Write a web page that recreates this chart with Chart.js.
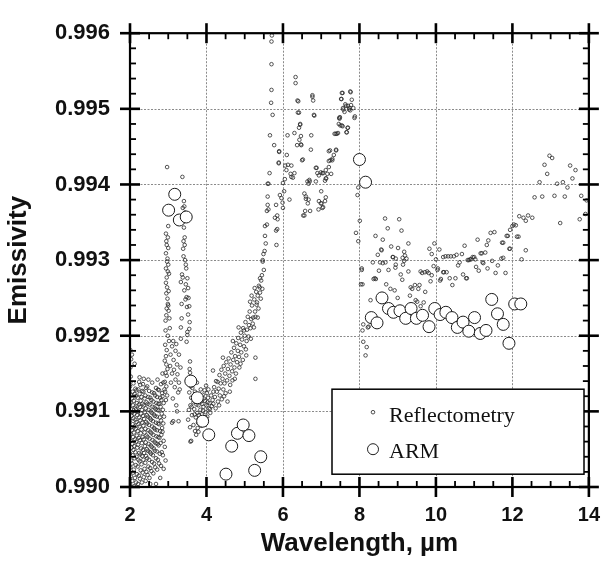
<!DOCTYPE html>
<html>
<head>
<meta charset="utf-8">
<title>Emissivity vs wavelength</title>
<script src="https://cdn.jsdelivr.net/npm/chart.js@4.4.1/dist/chart.umd.min.js"></script>
<style>
  html, body { margin: 0; padding: 0; background: #fff; }
  canvas { display: block; }
</style>
</head>
<body>
<canvas id="emisChart" width="616" height="561"></canvas>
<script>
// ── Axis ticks ─────────────────────────────────────────────
const xTicks = [2, 4, 6, 8, 10, 12, 14];
const yTicks = [0.990, 0.991, 0.992, 0.993, 0.994, 0.995, 0.996];

// ── ARM (large circles) ────────────────────────────────────
const armWave = [3.01, 3.17, 3.29, 3.47, 3.59, 3.76, 3.90, 4.06, 4.51, 4.66, 4.81, 4.96, 5.11, 5.26, 5.42,
  8.00, 8.16, 8.31, 8.46, 8.59, 8.76, 8.89, 9.06, 9.21, 9.35, 9.49, 9.65, 9.82, 9.97, 10.11, 10.26, 10.42,
  10.56, 10.71, 10.86, 11.01, 11.16, 11.31, 11.46, 11.61, 11.76, 11.91, 12.06, 12.22];
const armEmis = [0.99366, 0.99387, 0.99353, 0.99357, 0.99140, 0.99118, 0.99087, 0.99069, 0.99017, 0.99054,
  0.99071, 0.99082, 0.99068, 0.99022, 0.99040,
  0.99433, 0.99403, 0.99224, 0.99217, 0.99250, 0.99236, 0.99231, 0.99233, 0.99223, 0.99236, 0.99223, 0.99227,
  0.99212, 0.99236, 0.99228, 0.99231, 0.99224, 0.99211, 0.99218, 0.99206, 0.99224, 0.99203, 0.99207, 0.99248,
  0.99229, 0.99215, 0.99190, 0.99242, 0.99242];

// ── Reflectometry (small circles), [wavelength, emissivity] ─
const reflNear2 = [
  [2.00,0.99003],[2.02,0.99014],[2.01,0.99026],[2.03,0.99035],[2.00,0.99044],[2.04,0.99052],[2.02,0.99061],[2.01,0.99070],[2.03,0.99079],[2.00,0.99088],
  [2.04,0.99094],[2.02,0.99103],[2.01,0.99112],[2.03,0.99121],[2.00,0.99133],[2.02,0.99146],[2.01,0.99158],[2.03,0.99169],[2.01,0.99181],
  [2.06,0.99008],[2.08,0.99019],[2.05,0.99031],[2.07,0.99042],[2.09,0.99049],[2.06,0.99057],[2.08,0.99066],[2.05,0.99075],[2.07,0.99083],[2.09,0.99091],
  [2.06,0.99099],[2.08,0.99108],[2.05,0.99117],[2.07,0.99126],[2.09,0.99137],
  [2.11,0.99001],[2.13,0.99012],[2.10,0.99023],[2.12,0.99038],[2.14,0.99046],[2.11,0.99054],[2.13,0.99063],[2.10,0.99072],[2.12,0.99080],[2.14,0.99089],
  [2.11,0.99097],[2.13,0.99105],[2.10,0.99114],[2.12,0.99123],[2.14,0.99130],
  [2.16,0.99006],[2.18,0.99017],[2.15,0.99029],[2.17,0.99040],[2.19,0.99052],[2.16,0.99060],[2.18,0.99068],[2.15,0.99077],[2.17,0.99086],[2.19,0.99095],
  [2.16,0.99103],[2.18,0.99111],[2.15,0.99120],[2.17,0.99128],
  [2.21,0.99004],[2.23,0.99015],[2.20,0.99027],[2.22,0.99036],[2.24,0.99045],[2.21,0.99056],[2.23,0.99065],[2.20,0.99074],[2.22,0.99083],[2.24,0.99092],
  [2.21,0.99100],[2.23,0.99109],[2.20,0.99118],[2.22,0.99129],[2.24,0.99139],
  [2.26,0.99011],[2.28,0.99022],[2.25,0.99034],[2.27,0.99043],[2.29,0.99051],[2.26,0.99062],[2.28,0.99071],[2.25,0.99080],[2.27,0.99088],[2.29,0.99097],
  [2.26,0.99106],[2.28,0.99114],[2.25,0.99123],[2.27,0.99135],
  [2.31,0.99006],[2.33,0.99019],[2.30,0.99030],[2.32,0.99041],[2.34,0.99049],[2.31,0.99058],[2.33,0.99066],[2.30,0.99076],[2.32,0.99085],[2.34,0.99094],
  [2.31,0.99102],[2.33,0.99110],[2.30,0.99119],[2.32,0.99127],[2.34,0.99136],
  [2.36,0.99013],[2.38,0.99024],[2.35,0.99036],[2.37,0.99045],[2.39,0.99054],[2.36,0.99063],[2.38,0.99072],[2.35,0.99081],[2.37,0.99090],[2.39,0.99099],
  [2.36,0.99108],[2.38,0.99117],[2.35,0.99126],
  [2.41,0.99008],[2.43,0.99020],[2.40,0.99032],[2.42,0.99041],[2.44,0.99050],[2.41,0.99059],[2.43,0.99068],[2.40,0.99077],[2.42,0.99086],[2.44,0.99095],
  [2.41,0.99104],[2.43,0.99112],[2.40,0.99121],[2.42,0.99131],
  [2.46,0.99016],[2.48,0.99027],[2.45,0.99038],[2.47,0.99048],[2.49,0.99057],[2.46,0.99066],[2.48,0.99075],[2.45,0.99084],[2.47,0.99093],[2.49,0.99102],
  [2.46,0.99110],[2.48,0.99119],[2.45,0.99133],
  [2.51,0.99012],[2.53,0.99025],[2.50,0.99036],[2.52,0.99046],[2.54,0.99055],[2.51,0.99064],[2.53,0.99073],[2.50,0.99082],[2.52,0.99091],[2.54,0.99100],
  [2.51,0.99109],[2.53,0.99118],[2.50,0.99127],
  [2.56,0.99021],[2.58,0.99033],[2.55,0.99044],[2.57,0.99053],[2.59,0.99062],[2.56,0.99071],[2.58,0.99080],[2.55,0.99089],[2.57,0.99098],[2.59,0.99106],
  [2.56,0.99115],[2.58,0.99125],
  [2.61,0.99018],[2.63,0.99031],[2.60,0.99042],[2.62,0.99051],[2.64,0.99060],[2.61,0.99069],[2.63,0.99078],[2.60,0.99087],[2.62,0.99096],[2.64,0.99105],
  [2.61,0.99113],[2.63,0.99124],
  [2.66,0.99026],[2.68,0.99038],[2.65,0.99048],[2.67,0.99058],[2.69,0.99067],[2.66,0.99076],[2.68,0.99085],[2.65,0.99094],[2.67,0.99103],[2.69,0.99111],
  [2.66,0.99121],[2.68,0.99131],
  [2.71,0.99023],[2.73,0.99036],[2.70,0.99047],[2.72,0.99057],[2.74,0.99066],[2.71,0.99075],[2.73,0.99084],[2.70,0.99093],[2.72,0.99102],[2.74,0.99110],
  [2.71,0.99119],[2.73,0.99129],
  [2.76,0.99031],[2.78,0.99044],[2.75,0.99055],[2.77,0.99065],[2.79,0.99074],[2.76,0.99083],[2.78,0.99092],[2.75,0.99101],[2.77,0.99110],[2.79,0.99118],
  [2.76,0.99128],
  [2.81,0.99028],[2.83,0.99046],[2.80,0.99058],[2.82,0.99069],[2.84,0.99078],[2.81,0.99088],[2.83,0.99097],[2.80,0.99106],[2.82,0.99115],[2.84,0.99124],
  [2.81,0.99136],
  [2.86,0.99042],[2.88,0.99061],[2.85,0.99073],[2.87,0.99084],[2.89,0.99093],[2.86,0.99102],[2.88,0.99111],[2.85,0.99120],[2.90,0.99129],[2.87,0.99138],
  [2.91,0.99053],[2.79,0.99012],[2.68,0.99004],[2.88,0.99024],[2.53,0.99004],[2.36,0.99143],[2.58,0.99138],[2.72,0.99142],[2.85,0.99150],[2.12,0.99163],
  [2.05,0.99175],[2.48,0.99142],[2.25,0.99145],[2.93,0.99035]
];
const reflBand3 = [
  [2.97,0.99423],[3.00,0.99345],[2.94,0.99335],[2.99,0.99330],[2.96,0.99320],[3.00,0.99316],[2.94,0.99309],[2.97,0.99298],[3.00,0.99294],[2.94,0.99289],
  [2.99,0.99285],[2.96,0.99277],[2.94,0.99270],[2.97,0.99264],[3.01,0.99259],[2.95,0.99256],[2.98,0.99249],[2.99,0.99242],[3.01,0.99233],[2.95,0.99227],
  [3.03,0.99223],[2.93,0.99220],[3.04,0.99210],[2.93,0.99207],[2.99,0.99200],[2.92,0.99188],[2.96,0.99181],[2.94,0.99173],[2.91,0.99167],[2.95,0.99162],
  [2.98,0.99156],[2.93,0.99151],[2.96,0.99147],[2.91,0.99139],[2.95,0.99133],[2.92,0.99126],[2.97,0.99121],[2.94,0.99115],[3.00,0.99240],[2.96,0.99236],
  [3.02,0.99193],[2.98,0.99302],[2.95,0.99325],[3.02,0.99282],
  [3.37,0.99410],[3.41,0.99378],[3.42,0.99371],[3.38,0.99369],[3.44,0.99363],[3.36,0.99354],[3.41,0.99343],[3.40,0.99325],[3.43,0.99320],[3.39,0.99315],
  [3.44,0.99300],[3.46,0.99294],[3.36,0.99281],[3.38,0.99277],[3.46,0.99268],[3.42,0.99260],[3.48,0.99251],[3.45,0.99248],[3.35,0.99242],[3.49,0.99238],
  [3.35,0.99223],[3.33,0.99211],[3.50,0.99201],[3.43,0.99330],[3.47,0.99289],[3.33,0.99271],[3.40,0.99305],[3.50,0.99276],[3.52,0.99263],[3.53,0.99250],
  [3.55,0.99239],[3.52,0.99228],[3.56,0.99218],[3.55,0.99209],[3.50,0.99205],[3.48,0.99192],[3.57,0.99166],[3.56,0.99156],[3.57,0.99151],[3.54,0.99138],
  [3.59,0.99133],
  [3.10,0.99186],[3.19,0.99180],[3.28,0.99175],[3.14,0.99168],[3.23,0.99162],[3.32,0.99158],[3.10,0.99150],[3.19,0.99142],[3.28,0.99138],[3.17,0.99132],
  [3.26,0.99125],[3.12,0.99117],[3.21,0.99108],[3.27,0.99087],[3.10,0.99085],[3.05,0.99160],[3.07,0.99138],[3.15,0.99155],[3.24,0.99149],[3.30,0.99129],
  [3.13,0.99193],[3.21,0.99189],[3.06,0.99175],[3.33,0.99196]
];
const reflNear4 = [
  [3.55,0.99125],[3.60,0.99118],[3.63,0.99131],[3.58,0.99108],[3.66,0.99112],[3.70,0.99126],[3.68,0.99103],[3.73,0.99117],[3.76,0.99098],[3.72,0.99092],
  [3.79,0.99108],[3.81,0.99121],[3.84,0.99102],[3.78,0.99085],[3.86,0.99113],[3.88,0.99096],[3.90,0.99122],[3.92,0.99106],[3.94,0.99089],[3.96,0.99114],
  [3.98,0.99099],[4.00,0.99108],[4.02,0.99093],[4.04,0.99118],[4.06,0.99104],[4.08,0.99111],[4.10,0.99098],[4.12,0.99121],[4.14,0.99107],[3.62,0.99095],
  [3.66,0.99082],[3.70,0.99074],[3.77,0.99078],[3.60,0.99061],[3.58,0.99060],[3.79,0.99073],[3.73,0.99069],[3.82,0.99090],[3.87,0.99081],[3.95,0.99128],
  [3.99,0.99134],[3.85,0.99129],[3.75,0.99138],[3.64,0.99143],[3.54,0.99102],[3.52,0.99089],[3.67,0.99121],[3.93,0.99117],[4.01,0.99124],[3.97,0.99092],
  [3.89,0.99110],[3.83,0.99115],[3.74,0.99109],[3.69,0.99096],[4.05,0.99129],[4.09,0.99103],[3.91,0.99101],[3.80,0.99095],[3.71,0.99113],[3.61,0.99106],
  [3.23,0.99100],[3.13,0.99087],[4.16,0.99115],[4.18,0.99126],[4.03,0.99112],[3.57,0.99079]
];
const reflRise5 = [
  [4.18,0.99110],[4.20,0.99132],[4.22,0.99119],[4.24,0.99104],[4.25,0.99140],[4.27,0.99126],[4.29,0.99139],[4.30,0.99113],[4.32,0.99130],[4.34,0.99148],
  [4.35,0.99121],[4.37,0.99137],[4.39,0.99155],[4.40,0.99116],[4.42,0.99143],[4.44,0.99129],[4.45,0.99160],[4.47,0.99137],[4.49,0.99150],[4.50,0.99124],
  [4.52,0.99165],[4.54,0.99141],[4.55,0.99113],[4.56,0.99156],[4.58,0.99170],[4.60,0.99147],[4.62,0.99135],[4.63,0.99162],[4.65,0.99178],[4.67,0.99153],
  [4.68,0.99141],[4.70,0.99168],[4.72,0.99184],[4.73,0.99158],[4.75,0.99173],[4.77,0.99150],[4.78,0.99190],[4.80,0.99165],[4.82,0.99180],[4.83,0.99197],
  [4.85,0.99172],[4.86,0.99158],[4.88,0.99188],[4.90,0.99204],[4.91,0.99178],[4.93,0.99195],[4.95,0.99168],[4.96,0.99210],[4.98,0.99186],[4.98,0.99207],
  [5.00,0.99200],[5.02,0.99218],[5.03,0.99182],[5.05,0.99193],[5.06,0.99208],[5.08,0.99225],[5.10,0.99199],[5.11,0.99214],[5.13,0.99232],[5.15,0.99210],
  [5.16,0.99196],[5.17,0.99222],[5.19,0.99240],[5.21,0.99216],[5.22,0.99224],[5.24,0.99211],[5.25,0.99248],[5.27,0.99232],[5.28,0.99225],[5.28,0.99143],
  [5.28,0.99171],[5.30,0.99258],[5.31,0.99241],[5.32,0.99244],[5.34,0.99253],[5.34,0.99224],[5.36,0.99236],[5.37,0.99266],[5.39,0.99264],[5.40,0.99257],
  [5.40,0.99276],[5.42,0.99249],[5.43,0.99273],[5.45,0.99280],[5.46,0.99262],[5.47,0.99298],[5.47,0.99300],[5.49,0.99308],[5.50,0.99287],[5.52,0.99312],
  [5.53,0.99332],[5.53,0.99345],[5.55,0.99322],[5.58,0.99347],[5.58,0.99365],[5.60,0.99384],[5.60,0.99373],[5.60,0.99401],[5.62,0.99367],[4.17,0.99154],
  [4.33,0.99108],[4.46,0.99120],[4.61,0.99126],[4.74,0.99143],[4.89,0.99163],[5.04,0.99174],[4.43,0.99171],[4.69,0.99193],[4.84,0.99211],[5.14,0.99245],
  [5.26,0.99263],[5.18,0.99253]
];
const reflPeak7 = [
  [5.71,0.99597],[5.70,0.99589],[5.70,0.99559],[5.70,0.99525],[5.69,0.99508],[5.73,0.99492],[5.66,0.99465],[5.77,0.99452],[5.90,0.99444],[5.89,0.99429],
  [5.65,0.99415],[5.62,0.99401],[5.82,0.99373],[5.85,0.99359],[5.86,0.99354],[5.92,0.99386],[5.96,0.99382],[5.99,0.99376],[6.00,0.99369],[6.03,0.99391],
  [6.17,0.99380],[6.00,0.99402],[5.83,0.99320],[5.82,0.99339],[5.85,0.99341],[5.79,0.99356],
  [6.33,0.99542],[6.33,0.99534],[6.38,0.99511],[6.77,0.99518],[6.79,0.99511],[6.81,0.99492],[6.42,0.99495],[6.45,0.99480],[6.42,0.99475],[6.12,0.99465],
  [6.30,0.99468],[6.43,0.99459],[6.74,0.99465],[6.37,0.99452],[6.48,0.99452],[6.10,0.99439],[6.73,0.99446],[6.52,0.99433],[6.06,0.99425],[6.13,0.99426],
  [6.22,0.99425],[6.09,0.99419],[6.30,0.99415],[6.22,0.99410],[6.05,0.99407],[6.64,0.99404],[6.86,0.99404],[7.03,0.99415],[6.94,0.99412],[7.10,0.99405],
  [6.86,0.99422],[7.20,0.99423],[7.26,0.99414],[7.29,0.99432],[7.33,0.99439],[7.20,0.99444],[7.39,0.99446],[7.35,0.99467],[7.41,0.99467],[7.44,0.99468],
  [7.66,0.99469],[7.69,0.99475],[7.50,0.99478],[7.56,0.99477],[7.46,0.99480],[7.47,0.99488],[7.49,0.99489],[7.58,0.99499],[7.65,0.99504],[7.73,0.99499],
  [7.84,0.99501],[7.87,0.99488],[7.76,0.99498],[7.78,0.99505],[7.53,0.99513],[7.80,0.99512],[7.56,0.99521],[7.76,0.99523],[6.82,0.99491],
  [5.90,0.99443],[5.89,0.99428],[7.23,0.99445],[7.24,0.99432],[7.12,0.99419],[6.90,0.99415],[6.99,0.99416],[7.05,0.99415],[6.70,0.99404],[6.20,0.99414],
  [6.26,0.99409],[7.54,0.99521],[7.77,0.99522],[7.52,0.99513],[7.63,0.99506],[7.70,0.99504],[7.74,0.99501],[7.57,0.99501],[7.61,0.99496],[7.88,0.99490],
  [7.48,0.99487],[7.54,0.99478],[7.70,0.99475],[7.67,0.99469],[7.38,0.99467],[6.77,0.99516],[6.40,0.99510],[6.39,0.99495],[6.45,0.99479],[6.47,0.99464],
  [6.47,0.99453],[6.50,0.99432],[7.39,0.99445],[7.29,0.99434],[7.20,0.99431],[6.88,0.99422],[7.16,0.99414],[7.12,0.99408],[6.69,0.99406],[6.60,0.99384],
  [6.65,0.99375],[6.53,0.99359],[6.58,0.99365],[6.94,0.99378],[7.03,0.99369],[7.12,0.99383],[7.00,0.99391],[6.93,0.99367],[7.01,0.99375],[6.67,0.99380],
  [6.67,0.99401],[6.56,0.99388],[6.60,0.99381],[6.71,0.99365],[6.56,0.99359],[6.99,0.99375],[7.10,0.99378],[7.05,0.99370],[7.13,0.99408],
  [7.95,0.99386],[7.97,0.99396],[8.01,0.99352],[7.91,0.99336],[7.97,0.99325],[8.06,0.99289],[8.04,0.99268]
];
const reflMid10 = [
  [8.67,0.99355],[9.04,0.99354],[8.74,0.99342],[9.10,0.99339],[8.42,0.99332],[8.61,0.99327],[9.28,0.99322],[8.83,0.99318],[9.01,0.99316],[8.57,0.99314],
  [9.17,0.99311],[9.19,0.99306],[8.48,0.99307],[8.88,0.99304],[8.95,0.99302],[9.23,0.99302],[9.13,0.99303],[8.35,0.99297],[8.54,0.99297],[8.61,0.99296],
  [8.68,0.99297],[8.95,0.99294],[9.14,0.99294],[8.06,0.99287],[8.51,0.99286],[8.76,0.99287],[9.08,0.99281],[8.37,0.99275],[9.64,0.99283],[9.71,0.99284],
  [9.77,0.99285],[9.81,0.99283],[9.83,0.99315],[9.89,0.99308],[9.96,0.99322],[9.94,0.99292],[10.05,0.99289],[10.09,0.99314],[10.00,0.99301],[10.19,0.99304],
  [10.25,0.99305],[10.32,0.99305],[10.39,0.99305],[10.47,0.99305],[10.68,0.99308],[10.75,0.99319],[10.83,0.99300],[10.92,0.99301],[10.62,0.99297],[10.58,0.99293],
  [10.19,0.99284],[10.28,0.99284],[10.13,0.99275],[10.51,0.99276],[10.71,0.99281],[10.81,0.99276],[10.43,0.99267],[8.08,0.99268],[8.81,0.99262],[8.92,0.99260],
  [9.34,0.99264],[9.38,0.99262],[9.57,0.99267],[9.72,0.99258],[9.32,0.99253],[9.47,0.99247],[9.51,0.99245],[9.68,0.99244],[8.29,0.99247],[8.10,0.99215],
  [8.22,0.99211],[8.08,0.99207],[8.10,0.99192],[8.19,0.99185],[8.16,0.99174],[8.24,0.99212],[8.40,0.99276],[9.60,0.99239],
  [10.54,0.99307],[10.96,0.99304],[11.09,0.99327],[11.20,0.99309],[11.29,0.99310],[11.33,0.99320],[11.37,0.99326],[11.43,0.99336],[11.53,0.99337],[11.76,0.99323],
  [11.88,0.99332],[11.94,0.99315],[11.47,0.99299],[11.71,0.99302],[11.22,0.99297],[11.03,0.99301],[10.86,0.99300],[11.82,0.99283],[11.56,0.99283],[11.35,0.99289],
  [11.05,0.99291],[10.79,0.99276],[10.36,0.99276],[10.21,0.99284],[10.11,0.99273],[10.04,0.99287],[9.89,0.99280],[9.60,0.99285],[9.17,0.99299],[8.87,0.99304],
  [8.58,0.99313],[8.43,0.99275],[8.94,0.99290],[9.28,0.99285],[9.12,0.99274],[9.45,0.99267],[9.54,0.99262],[8.70,0.99268],[9.00,0.99250],[9.86,0.99272],
  [11.00,0.99304],[10.89,0.99301],[11.62,0.99293],[11.12,0.99286],[11.24,0.99296],[11.76,0.99303],[11.17,0.99309]
];
const reflLong13 = [
  [12.97,0.99438],[13.04,0.99435],[12.84,0.99426],[12.91,0.99414],[13.51,0.99425],[13.65,0.99419],[13.57,0.99408],[12.71,0.99403],[13.17,0.99401],[13.32,0.99403],
  [13.44,0.99396],[12.58,0.99383],[12.78,0.99384],[13.10,0.99385],[13.37,0.99384],[13.80,0.99385],[13.94,0.99379],[12.18,0.99358],[12.29,0.99356],[12.41,0.99359],
  [12.35,0.99352],[12.52,0.99356],[13.25,0.99349],[13.76,0.99354],[13.91,0.99361],[12.04,0.99347],[12.00,0.99345],[11.94,0.99340],[12.12,0.99331],[11.85,0.99332],
  [11.73,0.99323],[11.92,0.99315],[12.35,0.99313],[12.24,0.99301],[12.09,0.99346],[12.16,0.99331]
];

// ── Styling ────────────────────────────────────────────────
const SANS  = '"Liberation Sans", Arial, sans-serif';
const SERIF = '"Liberation Serif", "Times New Roman", serif';

const toPoints = pairs => pairs.map(p => ({ x: p[0], y: p[1] }));
const reflPoints = toPoints([].concat(reflNear2, reflBand3, reflNear4, reflRise5, reflPeak7, reflMid10, reflLong13));
const armPoints  = armWave.map((w, i) => ({ x: w, y: armEmis[i] }));

// ── Frame, grid, ticks and legend ──────────────────────────
const axisFrame = {
  id: 'axisFrame',
  beforeDatasetsDraw(chart) {
    const { ctx, chartArea: a, scales: { x, y } } = chart;
    ctx.save();
    ctx.strokeStyle = '#8a8a8a';
    ctx.lineWidth = 1;
    ctx.setLineDash([2, 1.5]);
    xTicks.slice(1, -1).forEach(v => {
      const px = Math.round(x.getPixelForValue(v)) + 0.5;
      ctx.beginPath(); ctx.moveTo(px, a.top); ctx.lineTo(px, a.bottom); ctx.stroke();
    });
    yTicks.slice(1, -1).forEach(v => {
      const py = Math.round(y.getPixelForValue(v)) + 0.5;
      ctx.beginPath(); ctx.moveTo(a.left, py); ctx.lineTo(a.right, py); ctx.stroke();
    });
    ctx.restore();
  },
  afterDatasetsDraw(chart) {
    const { ctx, chartArea: a, scales: { x, y } } = chart;
    ctx.save();
    ctx.strokeStyle = '#000';

    // minor ticks
    ctx.lineWidth = 1.8;
    for (let i = 0; i < xTicks.length - 1; i++) {
      const step = (xTicks[i + 1] - xTicks[i]) / 4;
      for (let k = 1; k < 4; k++) {
        const px = x.getPixelForValue(xTicks[i] + k * step);
        ctx.beginPath(); ctx.moveTo(px, a.bottom); ctx.lineTo(px, a.bottom - 6); ctx.stroke();
        ctx.beginPath(); ctx.moveTo(px, a.top); ctx.lineTo(px, a.top + 6); ctx.stroke();
      }
    }
    for (let i = 0; i < yTicks.length - 1; i++) {
      const step = (yTicks[i + 1] - yTicks[i]) / 5;
      for (let k = 1; k < 5; k++) {
        const py = y.getPixelForValue(yTicks[i] + k * step);
        ctx.beginPath(); ctx.moveTo(a.left, py); ctx.lineTo(a.left + 6, py); ctx.stroke();
        ctx.beginPath(); ctx.moveTo(a.right, py); ctx.lineTo(a.right - 6, py); ctx.stroke();
      }
    }

    // major ticks
    ctx.lineWidth = 2.6;
    xTicks.forEach(v => {
      const px = x.getPixelForValue(v);
      ctx.beginPath(); ctx.moveTo(px, a.bottom - 10); ctx.lineTo(px, a.bottom + 10); ctx.stroke();
      ctx.beginPath(); ctx.moveTo(px, a.top - 10); ctx.lineTo(px, a.top + 10); ctx.stroke();
    });
    yTicks.forEach(v => {
      const py = y.getPixelForValue(v);
      ctx.beginPath(); ctx.moveTo(a.left - 10, py); ctx.lineTo(a.left + 10, py); ctx.stroke();
      ctx.beginPath(); ctx.moveTo(a.right - 10, py); ctx.lineTo(a.right + 10, py); ctx.stroke();
    });

    // frame
    ctx.lineWidth = 2.2;
    ctx.strokeRect(a.left, a.top, a.right - a.left, a.bottom - a.top);

    // legend box
    const bx = a.left + 202, by = a.top + 356, bw = 252, bh = 85;
    ctx.fillStyle = '#fff';
    ctx.fillRect(bx, by, bw, bh);
    ctx.lineWidth = 1.5;
    ctx.strokeRect(bx, by, bw, bh);

    ctx.lineWidth = 0.8;
    ctx.strokeStyle = '#222';
    ctx.beginPath(); ctx.arc(bx + 41, by + 23, 1.8, 0, Math.PI * 2); ctx.stroke();
    ctx.lineWidth = 1;
    ctx.beginPath(); ctx.arc(bx + 41, by + 60, 5.5, 0, Math.PI * 2); ctx.stroke();

    ctx.fillStyle = '#111';
    ctx.font = '22px ' + SERIF;
    ctx.textAlign = 'left';
    ctx.textBaseline = 'alphabetic';
    ctx.fillText('Reflectometry', bx + 57, by + 33);
    ctx.fillText('ARM', bx + 57, by + 69);
    ctx.restore();
  }
};

// ── Chart ──────────────────────────────────────────────────
new Chart(document.getElementById('emisChart'), {
  type: 'scatter',
  data: {
    datasets: [
      {
        label: 'Reflectometry',
        data: reflPoints,
        order: 1,
        pointRadius: 1.8,
        pointBorderWidth: 0.8,
        pointBorderColor: '#2a2a2a',
        pointBackgroundColor: 'rgba(255,255,255,0)'
      },
      {
        label: 'ARM',
        data: armPoints,
        order: 0,
        pointRadius: 6,
        pointBorderWidth: 1,
        pointBorderColor: '#1a1a1a',
        pointBackgroundColor: '#fff'
      }
    ]
  },
  options: {
    responsive: false,
    animation: false,
    devicePixelRatio: 1,
    layout: { padding: { top: 23, right: 17.5, left: 0, bottom: 0 } },
    plugins: { legend: { display: false }, tooltip: { enabled: false } },
    scales: {
      x: {
        type: 'linear',
        min: 2, max: 14,
        afterFit: s => { s.height = 74; },
        afterBuildTicks: s => { s.ticks = xTicks.map(v => ({ value: v })); },
        grid: { display: false, drawTicks: false },
        border: { display: false },
        ticks: { padding: 16, color: '#111', font: { family: SANS, size: 20, weight: 'bold' } },
        title: {
          display: true, text: 'Wavelength, µm', color: '#111',
          padding: { top: 0, bottom: 1.5 },
          font: { family: SANS, size: 26, weight: 'bold' }
        }
      },
      y: {
        type: 'linear',
        min: 0.990, max: 0.996,
        afterFit: s => { s.width = 130; },
        afterBuildTicks: s => { s.ticks = yTicks.map(v => ({ value: v })); },
        grid: { display: false, drawTicks: false },
        border: { display: false },
        ticks: {
          padding: 20, color: '#111',
          font: { family: SANS, size: 22, weight: 'bold' },
          callback: v => v.toFixed(3)
        },
        title: {
          display: true, text: 'Emissivity', color: '#111',
          padding: { top: 3, bottom: 0 },
          font: { family: SANS, size: 26, weight: 'bold' }
        }
      }
    }
  },
  plugins: [axisFrame]
});
</script>
</body>
</html>
